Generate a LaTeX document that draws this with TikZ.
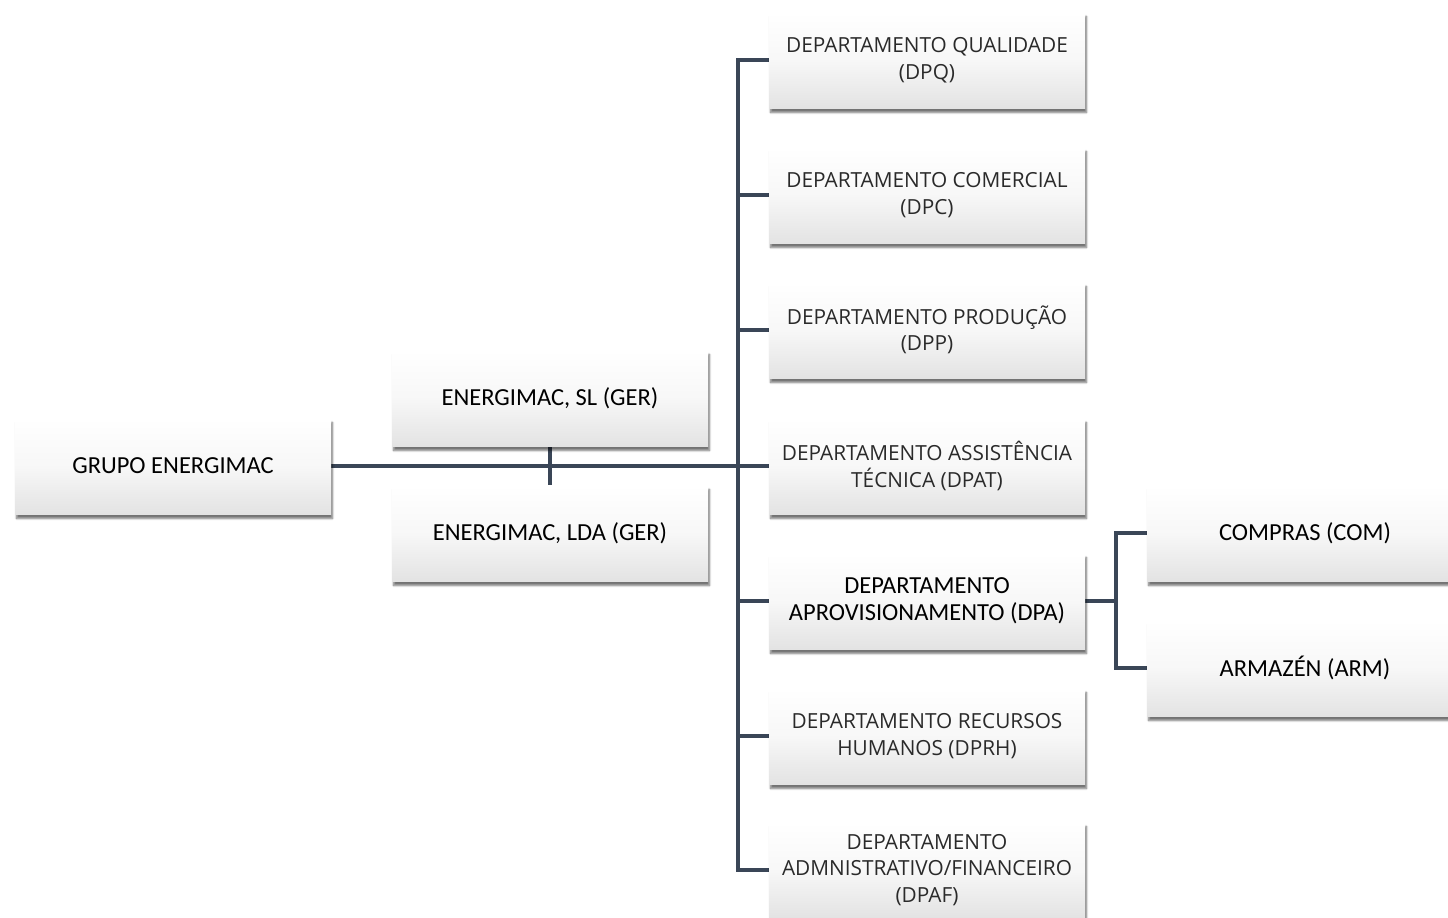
\documentclass[tikz,border=0pt]{standalone}
\usepackage{fontspec}
\setmainfont{Carlito}
\newfontfamily\deptfont{Open Sans}
\usetikzlibrary{shadows.blur,backgrounds}
\definecolor{linec}{HTML}{3A4657}
\definecolor{txtc}{HTML}{2A2A2A}
\tikzset{
  box/.style={rectangle, minimum width=316, minimum height=96, inner sep=0pt, align=center,
    top color=white, bottom color=black!11, middle color=white!97!black,
    blur shadow={shadow xshift=1.5pt, shadow yshift=-4.5pt, shadow blur steps=6, shadow opacity=55, shadow blur extra rounding=0pt}},
  mainbox/.style={box, font=\fontsize{24.5}{27}\selectfont, text=black},
  deptbox/.style={box, font=\deptfont\fontsize{20.8}{26.5}\selectfont, text=txtc},
  conn/.style={draw=linec, line width=3.05pt},
}
\begin{document}
\begin{tikzpicture}[x=1pt,y=-1pt]
\useasboundingbox (0,0) rectangle (1448,918);
\clip (0,0) rectangle (1448,918);
\node[mainbox] (grupo) at (173,466) {GRUPO ENERGIMAC};
\node[mainbox] (sl) at (550,398) {ENERGIMAC, SL (GER)};
\node[mainbox] (lda) at (550,533) {ENERGIMAC, LDA (GER)};
\node[deptbox] (dpq) at (927,60) {DEPARTAMENTO QUALIDADE\\(DPQ)};
\node[deptbox] (dpc) at (927,195) {DEPARTAMENTO COMERCIAL\\(DPC)};
\node[deptbox] (dpp) at (927,330) {DEPARTAMENTO PRODUÇÃO\\(DPP)};
\node[deptbox] (dpat) at (927,466) {DEPARTAMENTO ASSISTÊNCIA\\TÉCNICA (DPAT)};
\node[mainbox] (dpa) at (927,601) {DEPARTAMENTO\\APROVISIONAMENTO (DPA)};
\node[deptbox] (dprh) at (927,736) {DEPARTAMENTO RECURSOS\\HUMANOS (DPRH)};
\node[deptbox] (dpaf) at (927,870) {DEPARTAMENTO\\ADMNISTRATIVO/FINANCEIRO\\(DPAF)};
\node[mainbox] (com) at (1305,533) {COMPRAS (COM)};
\node[mainbox] (arm) at (1305,668) {ARMAZÉN (ARM)};
\coordinate (tk) at (738,466);
\coordinate (jn) at (1116,601);
\begin{pgfonlayer}{background}
\draw[conn] (dpq.west) -- (dpq.west -| tk) -- (dpaf.west -| tk) -- (dpaf.west);
\foreach \n in {dpc,dpp,dpat,dpa,dprh} \draw[conn] (\n.west) -- (\n.west -| tk);
\draw[conn] (grupo.east) -- (tk);
\draw[conn] (sl.south) -- (lda.north);
\draw[conn] (dpa.east) -- (jn);
\draw[conn] (com.west) -- (com.west -| jn) -- (arm.west -| jn) -- (arm.west);
\end{pgfonlayer}
\end{tikzpicture}
\end{document}
